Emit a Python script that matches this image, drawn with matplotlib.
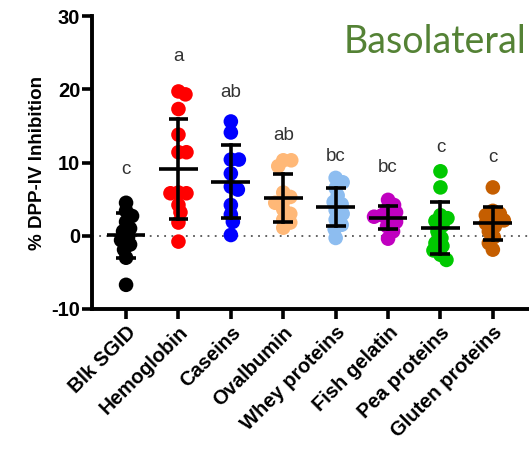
import numpy as np
import matplotlib
matplotlib.use("Agg")
import matplotlib.pyplot as plt

categories = ["Blk SGID", "Hemoglobin", "Caseins", "Ovalbumin", "Whey proteins",
              "Fish gelatin", "Pea proteins", "Gluten proteins"]

blk = [4.5, 3.4, 2.7, 1.9, 1.0, 0.6, -0.2, -0.6, -1.2, -1.9, -3.0, -6.7]
hemoglobin = [19.3, 19.7, 17.3, 13.8, 11.4, 11.4, 5.8, 5.8, 5.9, 4.2, 3.2, 1.8, -0.8]
caseins = [15.6, 14.1, 10.4, 10.4, 8.5, 6.7, 6.3, 4.2, 2.9, 1.9, 0.1]
ovalbumin = [10.3, 10.3, 9.5, 5.9, 5.3, 4.7, 4.5, 3.6, 3.0, 2.2, 1.8, 1.1]
whey = [7.9, 7.3, 6.5, 5.5, 4.6, 4.3, 3.5, 3.0, 2.2, 1.5, 0.9, -0.3]
fish = [4.9, 4.2, 3.6, 3.2, 2.8, 2.6, 2.3, 1.9, 1.3, 0.6, -0.4]
pea = [8.8, 6.6, 2.8, 2.4, 2.0, 1.4, 0.6, -0.3, -1.0, -1.4, -2.0, -2.6, -3.3]
gluten = [6.6, 3.4, 3.0, 2.8, 2.3, 2.1, 1.7, 1.3, 0.6, -0.2, -1.0, -1.9]

series = [blk, hemoglobin, caseins, ovalbumin, whey, fish, pea, gluten]
colors = ["#000000", "#FF0000", "#0000FF", "#FFB877", "#8DBDF0",
          "#C000C0", "#00C800", "#C55E00"]
letters = ["c", "a", "ab", "ab", "bc", "bc", "c", "c"]
letter_y = [9.0, 24.5, 19.5, 13.7, 10.8, 9.3, 12.0, 10.7]

W, H, DPI = 529, 455, 100
fig = plt.figure(figsize=(W / DPI, H / DPI), dpi=DPI)
ax = fig.add_axes([92 / W, 1 - 309 / H, (529 - 92) / W, (309 - 16) / H])

xlim = (-0.65, 7.69)
ylim = (-10, 30)
ax.set_xlim(*xlim)
ax.set_ylim(*ylim)

# pixel scale for swarm
px_per_x = ax.get_position().width * W / (xlim[1] - xlim[0])
px_per_y = ax.get_position().height * H / (ylim[1] - ylim[0])
diam = 7.5  # px, allow some overlap


def swarm(values):
    vals = np.asarray(values, float)
    order = np.argsort(-vals)
    placed = []
    offs = np.zeros(len(vals))
    for i in order:
        y = vals[i] * px_per_y
        cands = [0.0]
        for k in range(1, 40):
            cands += [k * 1.0, -k * 1.0]
        for c in cands:
            ok = True
            for (px, py) in placed:
                if (px - c) ** 2 + (py - y) ** 2 < diam ** 2:
                    ok = False
                    break
            if ok:
                offs[i] = c
                placed.append((c, y))
                break
    return offs / px_per_x


ax.axhline(0, color="#555555", linestyle=(0, (1, 3)), linewidth=1.3, zorder=1)

for i, (vals, col) in enumerate(zip(series, colors)):
    xo = swarm(vals)
    ax.scatter(i + xo, vals, s=110, color=col, edgecolors="none", zorder=2)
    m = np.mean(vals)
    sd = np.std(vals, ddof=1)
    ax.plot([i - 0.37, i + 0.37], [m, m], color="black", lw=2.6, zorder=3,
            solid_capstyle="butt")
    ax.plot([i, i], [m - sd, m + sd], color="black", lw=2.6, zorder=3)
    for yy in (m - sd, m + sd):
        ax.plot([i - 0.19, i + 0.19], [yy, yy], color="black", lw=2.6, zorder=3,
                solid_capstyle="butt")
    ax.text(i, letter_y[i], letters[i], ha="center", va="center", fontsize=13.5,
            color="#333333", family="Liberation Sans")

ax.set_xticks(range(len(categories)))
ax.set_xticklabels(categories, rotation=45, ha="right", rotation_mode="anchor",
                   fontsize=14.5, fontweight="bold", family="Liberation Sans")
ax.set_yticks([-10, 0, 10, 20, 30])
ax.set_yticklabels(["-10", "0", "10", "20", "30"], fontsize=14.5, fontweight="bold",
                   family="Liberation Sans")
ax.tick_params(axis="both", width=2.6, length=7, direction="out", pad=1.5)
ax.tick_params(axis="x", pad=3)
for s in ("top", "right"):
    ax.spines[s].set_visible(False)
for s in ("left", "bottom"):
    ax.spines[s].set_linewidth(2.8)
ax.set_ylabel("% DPP-IV Inhibition", fontsize=13.5, fontweight="bold",
              family="Liberation Sans", labelpad=4)

fig.text(0.995, 1 - 42 / H, "Basolateral", ha="right", va="center",
         fontsize=27, color="#548235", family="Lato")

fig.savefig("out.png", dpi=DPI)
